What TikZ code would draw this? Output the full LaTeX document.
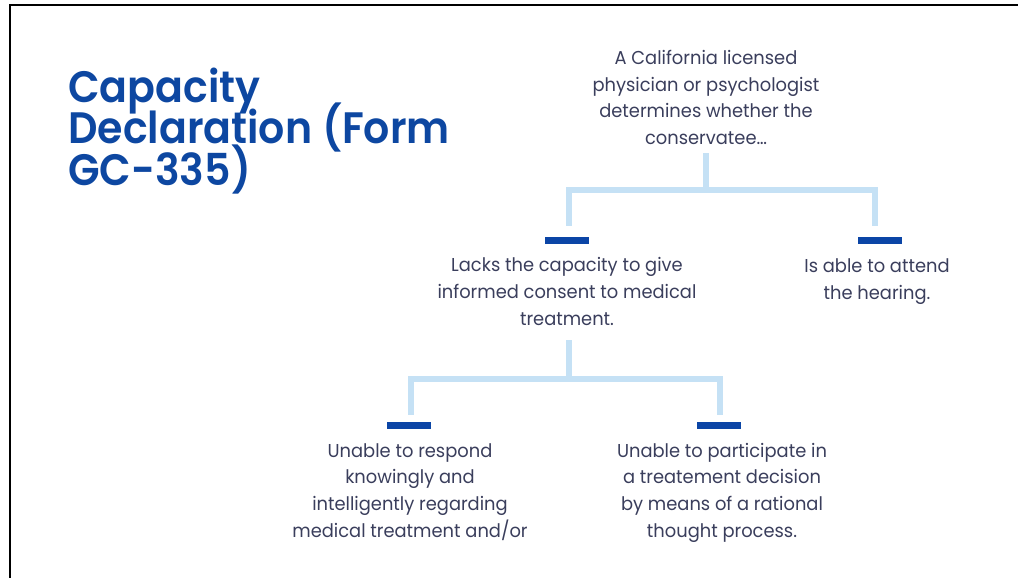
\documentclass[tikz,border=0pt]{standalone}
\usepackage{fontspec}
\setmainfont{Poppins}[FakeStretch=0.957]
\newfontfamily\ttlfont{Poppins SemiBold}[FakeStretch=0.934]
\newcommand\mytightlines{\lineskiplimit=-40pt\relax}
\definecolor{titleblue}{HTML}{0D47A1}
\definecolor{barblue}{HTML}{0B45A6}
\definecolor{txt}{HTML}{3A3E5C}
\definecolor{connblue}{HTML}{C5E1F5}
\begin{document}
\begin{tikzpicture}[x=0.75pt,y=-0.75pt,
  body/.style={font=\fontsize{14pt}{20pt}\selectfont\mytightlines, text=txt, align=center, inner sep=0pt, anchor=base},
  titletext/.style={font=\ttlfont\fontsize{33pt}{31pt}\selectfont\mytightlines, text=titleblue, align=left, inner sep=0pt, anchor=base west},
  bar/.style={fill=barblue, minimum width=33pt, minimum height=5.25pt, inner sep=0pt},
  conn/.style={draw=connblue, line width=4.5pt, line join=miter},
  frame/.style={draw=black, line width=1.9pt, line join=miter}]
\useasboundingbox (0,0) rectangle (1018,578);
\draw[frame] (10,578) -- (10,5) -- (1018,5);

\node[titletext] (ttl) at (68,185) {Capacity\\Declaration (Form\\GC-335)};

\node[body] (t0) at (706,144.5) {A California licensed\\physician or psychologist\\determines whether the\\conservatee…};
\node[body] (t1) at (567,325) {Lacks the capacity to give\\informed consent to medical\\treatment.};
\node[body] (t2) at (877,299) {Is able to attend\\the hearing.};
\node[body] (t3) at (410,537) {Unable to respond\\knowingly and\\intelligently regarding\\medical treatment and/or};
\node[body] (t4) at (722,537) {Unable to participate in\\a treatement decision\\by means of a rational\\thought process.};

\node[bar] (b1) at (567,240.5) {};
\node[bar] (b2) at (880,240.5) {};
\node[bar] (b3) at (409,425.5) {};
\node[bar] (b4) at (719,425.5) {};

\coordinate (s0) at (706,153);
\coordinate (e1) at (569,226);
\coordinate (e2) at (875,226);
\draw[conn] (s0) -- ++(0,37) -| (e1);
\draw[conn] (s0) -- ++(0,37) -| (e2);

\coordinate (s1) at (569,340);
\coordinate (e3) at (411,415);
\coordinate (e4) at (720,415);
\draw[conn] (s1) -- ++(0,39) -| (e3);
\draw[conn] (s1) -- ++(0,39) -| (e4);
\end{tikzpicture}
\end{document}
